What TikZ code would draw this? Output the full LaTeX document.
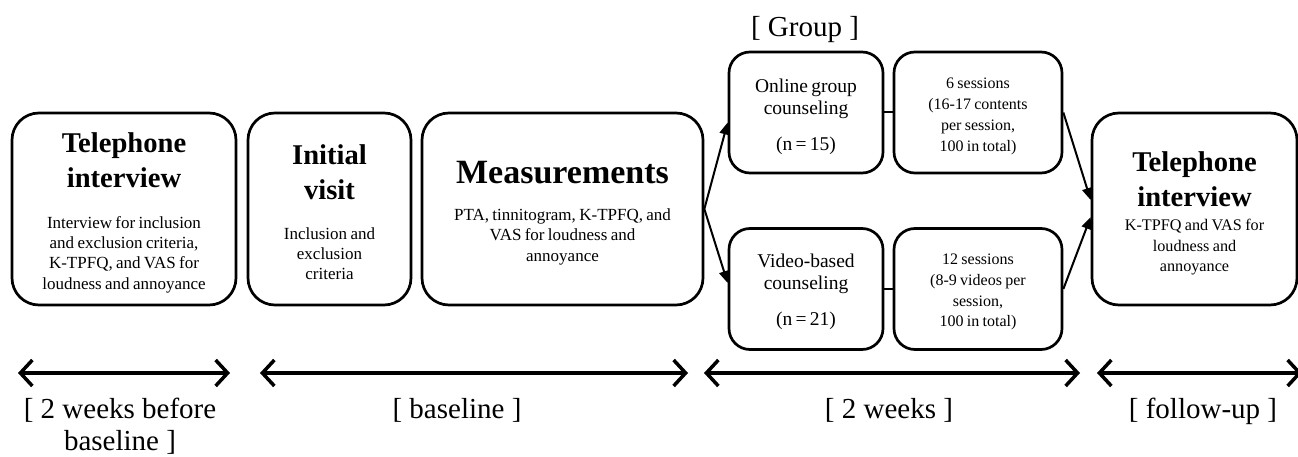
\documentclass[tikz,border=0pt]{standalone}
\usepackage{fontspec}
\setmainfont{Liberation Serif}
\usetikzlibrary{arrows.meta}
\newcommand\ttlfont{\fontsize{28.6}{35}\selectfont\bfseries}
\newcommand\measfont{\fontsize{34}{40}\selectfont\bfseries}
\newcommand\bodyfont{\fontsize{17}{20.3}\selectfont}
\newcommand\rbodyfont{\fontsize{16.2}{20.6}\selectfont}
\newcommand\grpfont{\fontsize{19.5}{22}\selectfont}
\newcommand\sesfont{\fontsize{16}{20.8}\selectfont}
\newcommand\lblfont{\fontsize{29}{32}\selectfont}
\newcommand\topstrut[1]{\rule{0pt}{#1}}
\begin{document}
\begin{tikzpicture}[x=1pt,y=-1pt,
  bigbox/.style={draw, line width=2.7pt, rounded corners=27pt, inner sep=0pt, align=center, minimum height=192pt},
  smallbox/.style={draw, line width=2.7pt, rounded corners=21pt, inner sep=0pt, align=center, minimum height=121pt},
  conn/.style={line width=2pt},
  arr/.style={line width=2pt, -{Triangle[length=12pt,width=10pt]}},
  span/.style={line width=3.5pt, {Straight Barb[length=12pt,width=26pt]}-{Straight Barb[length=12pt,width=26pt]}},
  lbl/.style={font=\lblfont, inner sep=0pt, align=center}]
\useasboundingbox (0,0) rectangle (1298,457);

% main boxes
\node[bigbox, minimum width=224pt, text width=214pt] (tel1) at (124,209)
  {{\ttlfont \topstrut{27.6pt}Telephone\\ interview\par}\vspace{20pt}{\bodyfont Interview for inclusion\\ and exclusion criteria,\\ K-TPFQ, and VAS for\\ loudness and annoyance\par}};
\node[bigbox, minimum width=163pt, text width=153pt] (init) at (329.5,209)
  {{\ttlfont \topstrut{26.6pt}Initial\\ visit\par}\vspace{19pt}{\bodyfont Inclusion and\\ exclusion\\ criteria\par}};
\node[bigbox, minimum width=281pt, text width=271pt] (meas) at (562.5,209)
  {{\measfont \topstrut{30pt}Measurements\par}\vspace{17pt}{\bodyfont PTA, tinnitogram, K-TPFQ, and\\ VAS for loudness and\\ annoyance\par}};
\node[bigbox, minimum width=205pt, text width=195pt] (tel2) at (1194.5,209)
  {{\ttlfont \topstrut{28.6pt}Telephone\\ interview\par}\vspace{4pt}{\rbodyfont K-TPFQ and VAS for\\ loudness and\\ annoyance\par}};

% group boxes
\node[smallbox, minimum width=154pt, text width=146pt] (onl) at (806,112.5)
  {{\grpfont \topstrut{21.3pt}Online group\\ counseling\par}\vspace{14pt}{\grpfont (n = 15)\par}};
\node[smallbox, minimum width=168pt, text width=160pt] (ses1) at (978,112.5)
  {{\sesfont \topstrut{18.8pt}6 sessions\\ (16-17 contents\\ per session,\\ 100 in total)\par}};
\node[smallbox, minimum width=154pt, text width=146pt] (vid) at (806,289)
  {{\grpfont \topstrut{19.3pt}Video-based\\ counseling\par}\vspace{14pt}{\grpfont (n = 21)\par}};
\node[smallbox, minimum width=168pt, text width=160pt] (ses2) at (978,289)
  {{\sesfont \topstrut{16.8pt}12 sessions\\ (8-9 videos per\\ session,\\ 100 in total)\par}};

\node[lbl, anchor=base] (grp) at (805,37) {[ Group ]};

% connectors
\draw[arr] (meas.east) -- ([yshift=-10pt]onl.west);
\draw[arr] (meas.east) -- ([yshift=6pt]vid.west);
\draw[conn] (onl.east) -- (ses1.west);
\draw[conn] (vid.east) -- (ses2.west);
\draw[arr] (ses1.east) -- ([yshift=9pt]tel2.west);
\draw[arr] (ses2.east) -- ([yshift=-8pt]tel2.west);

% timeline
\coordinate (t1a) at (18,373);  \coordinate (t1b) at (230,373);
\coordinate (t2a) at (260,373); \coordinate (t2b) at (688,373);
\coordinate (t3a) at (704,373); \coordinate (t3b) at (1080,373);
\coordinate (t4a) at (1097,373); \coordinate (t4b) at (1302,373);
\draw[span] (t1a) -- (t1b);
\draw[span] (t2a) -- (t2b);
\draw[span] (t3a) -- (t3b);
\draw[span] (t4a) -- (t4b);

\node[lbl, anchor=base] (l1) at (120,450) {[ 2 weeks before\\ baseline ]};
\node[lbl, anchor=base] (l2) at (457,418) {[ baseline ]};
\node[lbl, anchor=base] (l3) at (889,418) {[ 2 weeks ]};
\node[lbl, anchor=base] (l4) at (1203,418) {[ follow-up ]};
\end{tikzpicture}
\end{document}
